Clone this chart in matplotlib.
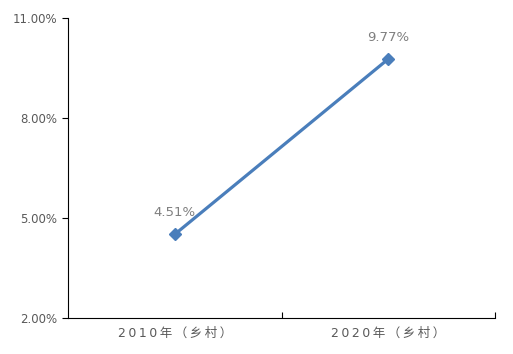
import matplotlib
matplotlib.use("Agg")
import matplotlib.pyplot as plt
from matplotlib.ticker import FuncFormatter

plt.rcParams['font.family'] = ['DejaVu Sans', 'Noto Sans CJK SC']

categories = ["2010年（乡村）", "2020年（乡村）"]
values = [4.51, 9.77]
yticks = [2.0, 5.0, 8.0, 11.0]

fig = plt.figure(figsize=(5.13, 3.54), dpi=100)
ax = fig.add_axes([68/513, 36/354, 427/513, 300/354])

x = list(range(len(categories)))
ax.plot(x, values, color='#4a7ebb', lw=2.3, marker='D', markersize=6.5, zorder=3)
for xi, v in zip(x, values):
    ax.annotate(f"{v:.2f}%", (xi, v), xytext=(0, 11), textcoords='offset points',
                ha='center', va='bottom', fontsize=9.5, color='#7f7f7f')

ax.set_xlim(-0.5, len(categories) - 0.5)
ax.set_ylim(2.0, 11.0)
ax.set_yticks(yticks)
ax.yaxis.set_major_formatter(FuncFormatter(lambda v, p: f"{v:.2f}%"))
ax.set_xticks([i + 0.5 for i in range(len(categories))])
ax.set_xticklabels([])
ax.set_xticks(x, minor=True)
ax.set_xticklabels(['\u2009'.join(c) for c in categories], minor=True)
ax.tick_params(axis='x', which='minor', length=0, pad=6, labelsize=9, colors='#595959')
ax.tick_params(axis='x', which='major', direction='in', length=4)
ax.tick_params(axis='y', direction='out', length=4, labelsize=8.5, labelcolor='#595959')
for lab in ax.get_xticklabels(minor=True):
    lab.set_color('#595959')
ax.spines['top'].set_visible(False)
ax.spines['right'].set_visible(False)

fig.savefig("out.png", dpi=100)
